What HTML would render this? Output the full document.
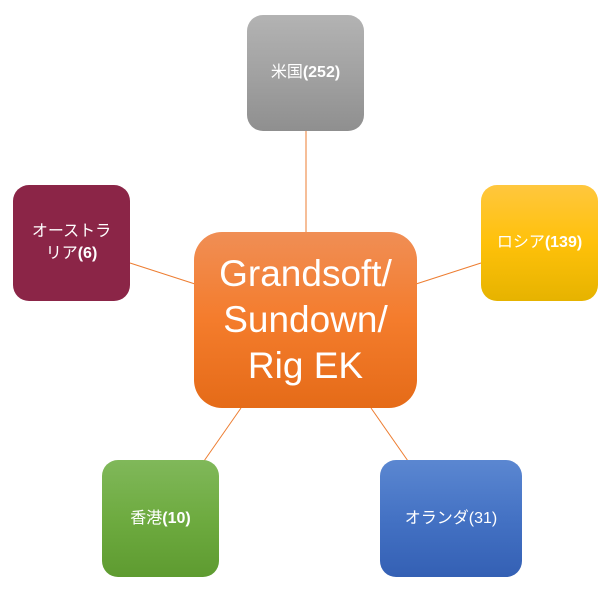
<!DOCTYPE html>
<html><head><meta charset="utf-8"><style>
body{margin:0;width:616px;height:591px;background:#fff;position:relative;overflow:hidden;font-family:"Liberation Sans","Noto Sans CJK JP",sans-serif;}
.b{position:absolute;border-radius:16px;color:#fff;display:flex;align-items:center;justify-content:center;text-align:center;font-size:16px;line-height:22px;}
.b span{display:block;}
.b b{font-weight:bold;}
svg{position:absolute;left:0;top:0}
</style></head><body>
<svg width="616" height="591"><g stroke="#ed7d31" stroke-width="1">
<line x1="306" y1="131" x2="306" y2="233"/>
<line x1="481" y1="263" x2="416" y2="284"/>
<line x1="130" y1="263" x2="195" y2="284"/>
<line x1="204" y1="461" x2="241" y2="408"/>
<line x1="408" y1="461" x2="371" y2="408"/>
</g></svg>
<div class="b" style="left:194px;top:232px;width:223px;height:176px;border-radius:28px;background:linear-gradient(#f08e55,#f47c2c 50%,#e56b18);font-size:37px;line-height:46px;"><span>Grandsoft/<br>Sundown/<br>Rig EK</span></div>
<div class="b" style="left:247px;top:15px;width:117px;height:116px;background:linear-gradient(#b3b3b3,#a2a2a2 50%,#8f8f8f);"><span>米国<b>(252)</b></span></div>
<div class="b" style="left:481px;top:185px;width:117px;height:116px;background:linear-gradient(#ffc73e,#ffc10a 50%,#e6b300);"><span>ロシア<b>(139)</b></span></div>
<div class="b" style="left:13px;top:185px;width:117px;height:116px;background:#8b2547;"><span>オーストラ<br>リア<b>(6)</b></span></div>
<div class="b" style="left:102px;top:460px;width:117px;height:117px;background:linear-gradient(#80b85a,#6eab40 50%,#5e9b30);"><span>香港<b>(10)</b></span></div>
<div class="b" style="left:380px;top:460px;width:142px;height:117px;background:linear-gradient(#5b87d1,#4472c4 50%,#3460b4);"><span>オランダ(31)</span></div>
</body></html>
